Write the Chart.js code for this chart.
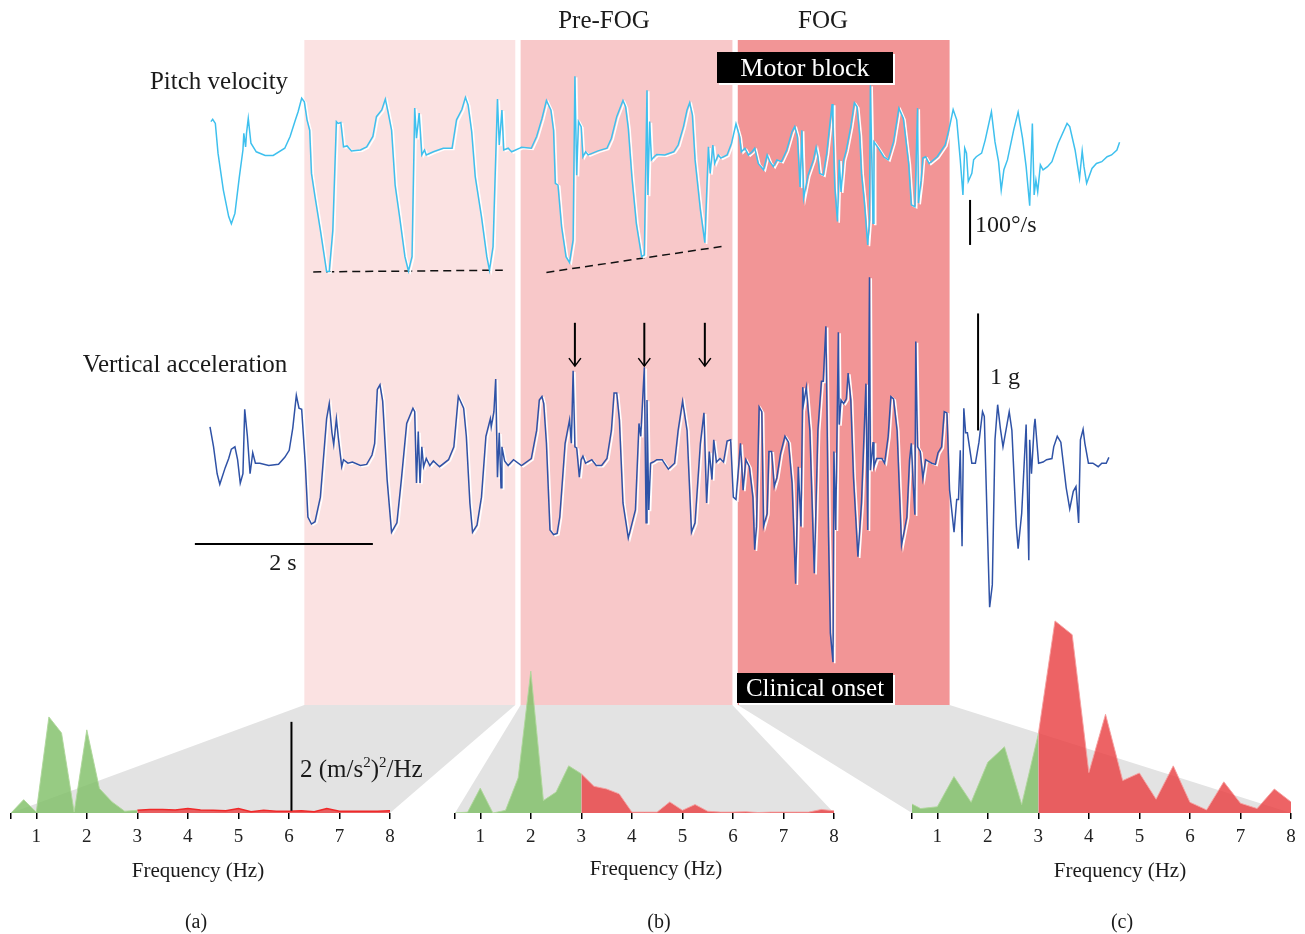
<!DOCTYPE html>
<html>
<head>
<meta charset="utf-8">
<script src="https://cdn.jsdelivr.net/npm/chart.js@4.4.0/dist/chart.umd.min.js"></script>
<style>
body { margin: 0; background: #fff; }
#fig { position: relative; width: 1305px; height: 934px; overflow: hidden; font-family: 'Liberation Serif', serif; color: #1a1a1a; }
canvas { position: absolute; }
.t { position: absolute; white-space: nowrap; line-height: 1; transform: translate(-50%, -50%); }
.l { transform: translate(0, -50%); }
.box { position: absolute; background: #000; color: #fff; font-size: 25px; text-align: center; box-shadow: 2px 2px 0 #fff; white-space: nowrap; }
</style>
</head>
<body>
<div id="fig">
  <canvas id="main" width="1305" height="934" style="left:0;top:0"></canvas>
  <canvas id="specA" width="420" height="260" style="left:0;top:600px"></canvas>
  <canvas id="specB" width="420" height="260" style="left:440px;top:600px"></canvas>
  <canvas id="specC" width="410" height="260" style="left:895px;top:600px"></canvas>

  <div class="t" style="left:219px;top:80px;font-size:25px">Pitch velocity</div>
  <div class="t" style="left:185px;top:363px;font-size:25px">Vertical acceleration</div>
  <div class="t" style="left:604px;top:19px;font-size:25px">Pre-FOG</div>
  <div class="t" style="left:823px;top:19px;font-size:25px">FOG</div>
  <div class="box" style="left:717px;top:52px;width:176px;height:31px;line-height:31px;font-size:26px">Motor block</div>
  <div class="box" style="left:737px;top:673px;width:156px;height:30px;line-height:30px">Clinical onset</div>
  <div class="t l" style="left:975px;top:224px;font-size:24px">100°/s</div>
  <div class="t l" style="left:990px;top:376px;font-size:24px">1 g</div>
  <div class="t" style="left:283px;top:562px;font-size:24px">2 s</div>
  <div class="t l" style="left:300px;top:768px;font-size:25px">2 (m/s<sup style="font-size:15px">2</sup>)<sup style="font-size:15px">2</sup>/Hz</div>
  <div class="t" style="left:198px;top:870px;font-size:21px">Frequency (Hz)</div>
  <div class="t" style="left:656px;top:868px;font-size:21px">Frequency (Hz)</div>
  <div class="t" style="left:1120px;top:870px;font-size:21px">Frequency (Hz)</div>
  <div class="t" style="left:196px;top:921px;font-size:20px">(a)</div>
  <div class="t" style="left:659px;top:921px;font-size:20px">(b)</div>
  <div class="t" style="left:1122px;top:921px;font-size:20px">(c)</div>
</div>
<script>
// time windows (s): normal walking, pre-FOG, FOG
const bandStart = [1.06, 3.49, 5.93];
const bandEnd = [3.43, 5.87, 8.31];

// pitch velocity [t (s), deg/s]
const pitch = [
  [0.01,63],[0.03,68],[0.06,59],[0.09,-7],[0.15,-89],[0.21,-148],[0.24,-164],[0.28,-141],[0.33,-59],[0.37,0],
  [0.38,37],[0.40,7],[0.41,37],[0.43,70],[0.46,15],[0.52,-4],[0.62,-12],[0.71,-12],[0.84,4],[0.90,30],
  [0.96,67],[0.99,85],[1.03,115],[1.06,107],[1.09,67],[1.12,44],[1.14,-52],[1.18,-104],[1.24,-178],[1.31,-270],
  [1.34,-270],[1.38,-178],[1.42,63],[1.44,59],[1.47,61],[1.50,7],[1.54,9],[1.59,-2],[1.69,0],[1.76,7],
  [1.83,30],[1.87,74],[1.93,89],[1.97,113],[2.00,85],[2.04,44],[2.08,-78],[2.13,-148],[2.19,-237],[2.23,-269],
  [2.27,-237],[2.30,93],[2.32,26],[2.35,82],[2.38,-11],[2.41,0],[2.43,-11],[2.51,-4],[2.62,4],[2.72,4],
  [2.77,67],[2.83,90],[2.87,117],[2.90,100],[2.94,41],[2.98,-59],[3.05,-148],[3.11,-237],[3.14,-267],[3.18,-215],
  [3.23,113],[3.25,11],[3.28,89],[3.30,0],[3.35,4],[3.39,-4],[3.48,4],[3.50,6],[3.61,4],[3.67,30],
  [3.73,70],[3.78,110],[3.83,89],[3.86,44],[3.88,-74],[3.91,-78],[3.95,-170],[4.00,-237],[4.04,-250],[4.08,-200],
  [4.10,164],[4.12,-56],[4.14,63],[4.17,52],[4.19,-15],[4.22,-4],[4.25,-11],[4.36,-2],[4.46,4],[4.51,26],
  [4.57,74],[4.64,110],[4.67,96],[4.70,48],[4.74,-59],[4.79,-163],[4.85,-237],[4.88,-233],[4.91,133],[4.92,-100],
  [4.94,63],[4.96,-22],[4.99,-15],[5.02,-10],[5.11,-11],[5.21,-4],[5.26,11],[5.32,52],[5.36,89],[5.39,105],
  [5.42,78],[5.45,-22],[5.51,-133],[5.56,-206],[5.60,7],[5.62,-52],[5.65,11],[5.67,-30],[5.71,-11],[5.74,-18],
  [5.81,-11],[5.86,15],[5.91,58],[5.95,30],[5.97,-4],[6.01,4],[6.05,-11],[6.09,-4],[6.12,4],[6.16,-30],
  [6.22,-44],[6.26,-11],[6.29,-26],[6.33,-37],[6.37,-22],[6.42,-26],[6.48,0],[6.54,41],[6.57,52],[6.60,30],
  [6.63,-82],[6.65,44],[6.67,-107],[6.72,-56],[6.78,-22],[6.81,6],[6.83,-15],[6.85,-52],[6.89,-56],[6.93,-7],
  [6.97,67],[6.99,102],[7.00,52],[7.02,-82],[7.05,-159],[7.07,-22],[7.09,-93],[7.12,-22],[7.15,0],[7.20,52],
  [7.24,105],[7.27,96],[7.30,33],[7.32,-52],[7.35,-111],[7.39,-211],[7.41,-156],[7.42,144],[7.45,-163],[7.46,18],
  [7.51,4],[7.57,-15],[7.62,-22],[7.68,18],[7.74,93],[7.79,70],[7.85,-30],[7.88,-122],[7.92,-126],[7.95,93],
  [7.96,-118],[7.99,-67],[8.01,-18],[8.04,-15],[8.08,-30],[8.17,-15],[8.26,11],[8.31,52],[8.35,90],[8.39,67],
  [8.43,-22],[8.46,-100],[8.48,4],[8.50,-7],[8.52,-70],[8.56,-52],[8.58,-22],[8.61,-15],[8.67,-7],[8.71,22],
  [8.78,85],[8.82,18],[8.86,-26],[8.89,-89],[8.92,-44],[8.96,-22],[9.03,44],[9.08,84],[9.13,26],[9.17,-37],
  [9.21,-124],[9.24,59],[9.26,-100],[9.28,-67],[9.30,-93],[9.33,-33],[9.36,-44],[9.41,-37],[9.46,-26],[9.53,15],
  [9.63,59],[9.66,52],[9.72,0],[9.77,-63],[9.80,-2],[9.82,-37],[9.85,-74],[9.91,-41],[9.96,-30],[10.02,-26],
  [10.08,-15],[10.13,-11],[10.19,0],[10.22,17]
];

// vertical acceleration [t (s), g]
const accel = [
  [0.00,0.30],[0.04,0.13],[0.08,-0.10],[0.11,-0.19],[0.17,-0.05],[0.21,0.03],[0.24,0.11],[0.28,0.13],[0.31,0.02],[0.34,-0.18],
  [0.37,-0.10],[0.39,0.45],[0.42,0.22],[0.45,-0.10],[0.48,0.08],[0.51,-0.01],[0.56,-0.01],[0.66,-0.03],[0.77,-0.02],[0.84,0.04],
  [0.89,0.10],[0.93,0.29],[0.97,0.57],[1.00,0.46],[1.03,0.45],[1.07,-0.01],[1.10,-0.47],[1.14,-0.53],[1.18,-0.51],[1.24,-0.30],
  [1.31,0.37],[1.34,0.50],[1.37,0.25],[1.39,0.15],[1.42,0.37],[1.44,0.22],[1.48,-0.04],[1.50,0.02],[1.55,-0.01],[1.60,0.00],
  [1.69,-0.03],[1.76,-0.02],[1.82,0.06],[1.85,0.16],[1.88,0.62],[1.91,0.66],[1.94,0.52],[1.99,-0.15],[2.04,-0.60],[2.10,-0.52],
  [2.15,-0.15],[2.21,0.33],[2.28,0.46],[2.30,0.43],[2.32,-0.18],[2.34,0.26],[2.36,-0.18],[2.38,0.13],[2.40,-0.04],[2.43,0.03],
  [2.47,-0.03],[2.51,0.01],[2.58,-0.04],[2.68,0.02],[2.74,0.13],[2.79,0.56],[2.85,0.46],[2.88,0.22],[2.92,-0.35],[2.95,-0.60],
  [3.00,-0.54],[3.05,-0.30],[3.10,0.22],[3.15,0.37],[3.16,0.30],[3.19,0.43],[3.21,0.71],[3.23,-0.13],[3.25,0.25],[3.27,-0.22],
  [3.28,0.13],[3.31,0.01],[3.35,-0.03],[3.41,0.02],[3.50,-0.03],[3.61,0.03],[3.67,0.27],[3.70,0.53],[3.73,0.56],[3.75,0.50],
  [3.78,0.16],[3.82,-0.58],[3.86,-0.62],[3.90,-0.61],[3.93,-0.47],[3.99,0.16],[4.04,0.36],[4.06,0.16],[4.08,0.78],[4.10,0.13],
  [4.12,0.12],[4.15,-0.13],[4.17,0.02],[4.19,0.05],[4.22,-0.01],[4.29,0.02],[4.34,-0.03],[4.40,-0.03],[4.46,0.03],[4.51,0.27],
  [4.54,0.59],[4.57,0.59],[4.60,0.36],[4.64,-0.35],[4.70,-0.65],[4.78,-0.41],[4.82,0.33],[4.84,0.22],[4.88,0.81],[4.90,-0.52],
  [4.91,0.53],[4.93,-0.41],[4.95,-0.01],[4.98,0.00],[5.02,0.02],[5.08,0.02],[5.15,-0.06],[5.22,-0.01],[5.26,0.27],[5.31,0.52],
  [5.36,0.27],[5.41,-0.60],[5.45,-0.52],[5.51,0.16],[5.55,0.42],[5.58,-0.35],[5.61,0.09],[5.64,-0.15],[5.66,0.19],[5.69,0.00],
  [5.73,0.03],[5.77,0.00],[5.81,0.18],[5.85,0.19],[5.88,-0.30],[5.91,-0.32],[5.96,0.16],[5.99,-0.24],[6.02,0.02],[6.06,-0.04],
  [6.10,-0.30],[6.12,-0.75],[6.14,-0.55],[6.17,0.47],[6.20,0.43],[6.22,-0.55],[6.26,-0.44],[6.28,0.09],[6.31,0.09],[6.34,-0.21],
  [6.37,-0.13],[6.41,0.07],[6.46,0.22],[6.50,0.17],[6.54,-0.18],[6.58,-1.04],[6.61,-0.04],[6.64,-0.55],[6.66,0.64],[6.67,0.50],
  [6.70,0.64],[6.74,0.27],[6.79,-0.95],[6.83,0.27],[6.87,0.69],[6.89,0.69],[6.92,1.16],[6.95,-0.64],[6.97,-1.46],[7.00,-1.71],
  [7.01,0.09],[7.03,-0.58],[7.06,1.11],[7.07,0.32],[7.09,0.53],[7.12,0.50],[7.15,0.54],[7.17,0.76],[7.20,0.53],[7.23,-0.13],
  [7.28,-0.81],[7.32,-0.35],[7.37,0.67],[7.39,-0.58],[7.41,1.58],[7.42,-0.07],[7.45,0.17],[7.46,-0.04],[7.49,0.03],[7.55,0.03],
  [7.58,-0.01],[7.62,0.22],[7.65,0.56],[7.68,0.54],[7.72,0.27],[7.77,-0.71],[7.83,-0.47],[7.86,0.02],[7.88,0.16],[7.90,-0.18],
  [7.92,-0.45],[7.93,1.03],[7.95,0.13],[7.98,0.09],[8.01,-0.14],[8.04,0.02],[8.11,-0.01],[8.15,-0.02],[8.18,0.08],[8.22,0.13],
  [8.25,0.43],[8.28,0.42],[8.31,-0.24],[8.36,-0.60],[8.39,-0.32],[8.41,-0.32],[8.43,0.10],[8.45,-0.72],[8.47,0.46],[8.49,0.25],
  [8.51,0.25],[8.56,-0.01],[8.60,-0.01],[8.64,0.17],[8.68,0.43],[8.70,0.39],[8.73,-0.44],[8.76,-1.24],[8.79,-1.05],[8.82,0.19],
  [8.85,0.49],[8.88,0.29],[8.91,0.13],[8.95,0.30],[8.98,0.43],[9.01,0.27],[9.06,-0.55],[9.08,-0.74],[9.12,-0.44],[9.17,0.32],
  [9.20,-0.84],[9.21,0.19],[9.23,-0.10],[9.26,0.30],[9.27,0.37],[9.31,-0.01],[9.36,0.00],[9.40,0.02],[9.46,0.03],[9.48,0.13],
  [9.52,0.22],[9.56,0.17],[9.62,-0.22],[9.66,-0.40],[9.70,-0.25],[9.73,-0.21],[9.76,-0.52],[9.78,0.19],[9.81,0.28],[9.83,0.16],
  [9.87,-0.01],[9.92,-0.01],[9.98,-0.04],[10.02,-0.01],[10.07,-0.01],[10.10,0.04]
];

// dashed trend lines through the pitch minima [t, deg/s]
const trendNormal = [[1.16,-271],[3.29,-267]];
const trendPreFog = [[3.78,-272],[5.80,-213]];

// arrows over the acceleration spikes (s), from/to in g
const arrowTimes = [4.10, 4.88, 5.56];
const arrowFromTo = [1.19, 0.82];

// scale bars: [position, start, length]
const pitchBar = [8.54, -111, 100];   // at t, from deg/s, 100 deg/s
const accelBar = [8.63, 0.27, 1];     // at t, from g, 1 g
const timeBar = [-0.70, -0.17, 2];    // at g, from t, 2 s
const psdBar = [6.05, 0.05, 2];       // at Hz, from, 2 (m/s2)2/Hz

// spectra
const freqTicks = [0.5, 1, 2, 3, 4, 5, 6, 7, 8];
const freqTickLabels = ['', '1', '2', '3', '4', '5', '6', '7', '8'];
const freqAB = [0.5,0.75,1,1.25,1.5,1.75,2,2.25,2.5,2.75,3,3.25,3.5,3.75,4,4.25,4.5,4.75,5,5.25,5.5,5.75,6,6.25,6.5,6.75,7,7.25,7.5,7.75,8];
const psdA = [0,0.30,0.02,2.16,1.80,0.02,1.87,0.55,0.25,0.04,0.06,0.08,0.08,0.07,0.10,0.07,0.06,0.05,0.10,0.03,0.06,0.04,0.04,0.05,0.03,0.10,0.04,0.04,0.04,0.04,0.05];
const psdB = [0,0.02,0.56,0,0.06,0.79,3.19,0.28,0.47,1.06,0.88,0.60,0.54,0.43,0.02,0.02,0.02,0.25,0.06,0.19,0.04,0.02,0.02,0.03,0.01,0.02,0.02,0.02,0.02,0.08,0.05];
const freqC = [0.5,0.67,1,1.33,1.67,2,2.33,2.67,3,3.33,3.67,4,4.33,4.67,5,5.33,5.67,6,6.33,6.67,7,7.33,7.67,8];
const psdC = [0.20,0.10,0.14,0.82,0.24,1.14,1.49,0.19,1.78,4.32,4.01,0.91,2.22,0.73,0.90,0.31,1.06,0.24,0.07,0.70,0.22,0.10,0.54,0.25];
const lowBandLimit = 3;  // Hz, locomotor band / freeze band split

Chart.defaults.font.family = "'Liberation Serif', serif";
Chart.defaults.animation = false;

const toXY = arr => arr.map(p => ({x: p[0], y: p[1]}));

function makeSpectrum(id, freq, psd, pad, thinRed) {
  const pts = freq.map((f, i) => ({x: f, y: psd[i]}));
  const low = pts.filter(p => p.x <= lowBandLimit);
  const high = pts.filter(p => p.x >= lowBandLimit);
  const plugins = [];
  if (id === 'specA') {
    plugins.push({
      id: 'psdBar',
      afterDatasetsDraw(chart) {
        const {ctx, scales: {x, y}} = chart;
        const px = x.getPixelForValue(psdBar[0]);
        ctx.save();
        ctx.strokeStyle = '#000';
        ctx.lineWidth = 2;
        ctx.beginPath();
        ctx.moveTo(px, y.getPixelForValue(psdBar[1]));
        ctx.lineTo(px, y.getPixelForValue(psdBar[1] + psdBar[2]));
        ctx.stroke();
        ctx.restore();
      }
    });
  }
  return new Chart(document.getElementById(id), {
    type: 'line',
    data: {
      datasets: [
        {
          data: low, fill: 'origin', tension: 0, pointRadius: 0,
          backgroundColor: 'rgba(125,190,100,0.8)', borderColor: 'rgba(175,215,155,0.9)', borderWidth: 1
        },
        {
          data: high, fill: 'origin', tension: 0, pointRadius: 0,
          backgroundColor: 'rgba(232,60,62,0.8)',
          borderColor: thinRed ? 'rgb(240,40,40)' : 'rgba(245,160,160,0.9)',
          borderWidth: thinRed ? 1.5 : 1
        }
      ]
    },
    options: {
      responsive: false,
      layout: {padding: {left: pad[0], right: pad[1], top: 0, bottom: 0}},
      plugins: {legend: {display: false}, tooltip: {enabled: false}},
      scales: {
        x: {
          type: 'linear', min: 0.5, max: 8,
          afterBuildTicks: s => { s.ticks = freqTicks.map(v => ({value: v})); },
          afterFit: s => { s.height = 47; },
          ticks: {
            autoSkip: false, maxRotation: 0, padding: 7, color: '#222',
            font: {size: 19},
            callback: v => freqTickLabels[freqTicks.indexOf(v)]
          },
          grid: {drawOnChartArea: false, drawTicks: true, tickLength: 6, color: '#000', lineWidth: 1.5},
          border: {display: false}
        },
        y: {display: false, min: 0, max: 4.79}
      }
    },
    plugins
  });
}

const specCharts = [
  makeSpectrum('specA', freqAB, psdA, [11, 30], true),
  makeSpectrum('specB', freqAB, psdB, [15, 26], false),
  makeSpectrum('specC', freqC, psdC, [17, 14], false)
];

const BAND_TOP = 40, BAND_BOTTOM = 705;
const bandColors = ['#fbe2e2', '#f8c8c9', '#f29596'];

const bandPlugin = {
  id: 'bands',
  beforeDatasetsDraw(chart) {
    const {ctx, scales: {x}} = chart;
    ctx.save();
    bandStart.forEach((s, i) => {
      const x0 = x.getPixelForValue(s);
      const x1 = x.getPixelForValue(bandEnd[i]);
      ctx.fillStyle = bandColors[i];
      ctx.fillRect(x0, BAND_TOP, x1 - x0, BAND_BOTTOM - BAND_TOP);
      // grey zoom wedge down to the spectrum below
      const sp = specCharts[i];
      const sx = sp.scales.x;
      const ox = sp.canvas.offsetLeft;
      const base = sp.canvas.offsetTop + sp.chartArea.bottom;
      ctx.fillStyle = '#e3e3e3';
      ctx.beginPath();
      ctx.moveTo(x0, BAND_BOTTOM);
      ctx.lineTo(x1, BAND_BOTTOM);
      ctx.lineTo(ox + sx.getPixelForValue(sx.max), base);
      ctx.lineTo(ox + sx.getPixelForValue(sx.min), base);
      ctx.closePath();
      ctx.fill();
    });
    ctx.restore();
  }
};

const haloPlugin = {
  id: 'halo',
  beforeDatasetDraw(chart, args) {
    if (args.index > 1) return;
    const ctx = chart.ctx;
    ctx.save();
    ctx.shadowColor = '#fff';
    ctx.shadowOffsetX = 1.8;
    ctx.shadowOffsetY = 1.2;
    ctx.shadowBlur = 0;
  },
  afterDatasetDraw(chart, args) {
    if (args.index > 1) return;
    chart.ctx.restore();
  }
};

const marksPlugin = {
  id: 'marks',
  afterDatasetsDraw(chart) {
    const {ctx, scales: {x, yP, yA}} = chart;
    const seg = (x0, y0, x1, y1) => { ctx.beginPath(); ctx.moveTo(x0, y0); ctx.lineTo(x1, y1); ctx.stroke(); };
    ctx.save();
    ctx.strokeStyle = '#000';
    ctx.lineWidth = 2;
    let px = x.getPixelForValue(pitchBar[0]);
    seg(px, yP.getPixelForValue(pitchBar[1]), px, yP.getPixelForValue(pitchBar[1] - pitchBar[2]));
    px = x.getPixelForValue(accelBar[0]);
    seg(px, yA.getPixelForValue(accelBar[1]), px, yA.getPixelForValue(accelBar[1] + accelBar[2]));
    const py = yA.getPixelForValue(timeBar[0]);
    seg(x.getPixelForValue(timeBar[1]), py, x.getPixelForValue(timeBar[1] + timeBar[2]), py);
    arrowTimes.forEach(t => {
      const ax = x.getPixelForValue(t);
      const y0 = yA.getPixelForValue(arrowFromTo[0]);
      const y1 = yA.getPixelForValue(arrowFromTo[1]);
      ctx.lineWidth = 2;
      seg(ax, y0, ax, y1);
      ctx.lineWidth = 1.5;
      ctx.beginPath();
      ctx.moveTo(ax - 6, y1 - 8);
      ctx.lineTo(ax, y1);
      ctx.lineTo(ax + 6, y1 - 8);
      ctx.stroke();
    });
    ctx.restore();
  }
};

new Chart(document.getElementById('main'), {
  type: 'line',
  data: {
    datasets: [
      {data: toXY(pitch), yAxisID: 'yP', borderColor: '#3ec0ee', borderWidth: 1.5, pointRadius: 0, tension: 0},
      {data: toXY(accel), yAxisID: 'yA', borderColor: '#2f52a6', borderWidth: 1.5, pointRadius: 0, tension: 0},
      {data: toXY(trendNormal), yAxisID: 'yP', borderColor: '#111', borderWidth: 1.5, borderDash: [8, 5], pointRadius: 0},
      {data: toXY(trendPreFog), yAxisID: 'yP', borderColor: '#111', borderWidth: 1.5, borderDash: [8, 5], pointRadius: 0}
    ]
  },
  options: {
    responsive: false,
    layout: {padding: 0},
    plugins: {legend: {display: false}, tooltip: {enabled: false}},
    scales: {
      x: {type: 'linear', display: false, min: -2.3596, max: 12.3034},
      yP: {type: 'linear', display: false, min: -1742.2, max: 333.3},
      yA: {type: 'linear', display: false, min: -4.034, max: 3.949}
    }
  },
  plugins: [bandPlugin, haloPlugin, marksPlugin]
});
</script>
</body>
</html>
